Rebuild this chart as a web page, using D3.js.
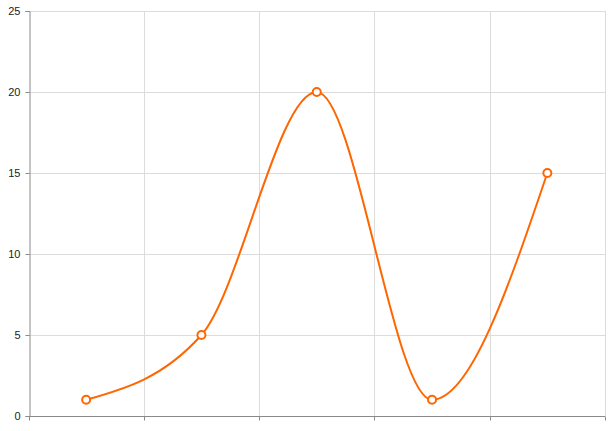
<!DOCTYPE html>
<html>
<head>
<meta charset="utf-8">
<script src="https://cdn.jsdelivr.net/npm/d3@7"></script>
<style>
  html, body { margin: 0; padding: 0; background: #fff; }
  svg { display: block; }
  text { font-family: "Liberation Sans", Arial, sans-serif; }
</style>
</head>
<body>
<svg id="chart" width="616" height="431"></svg>
<script>
const categories = ["1", "2", "3", "4", "5"];
const values = [1, 5, 20, 1, 15];
const yTicks = [0, 5, 10, 15, 20, 25];

const W = 616, H = 431;
const margin = { top: 11, right: 11, bottom: 15, left: 28.5 };
const svg = d3.select("#chart");

const x = d3.scaleBand().domain(categories).range([margin.left, W - margin.right]);
const y = d3.scaleLinear().domain([0, 25]).range([H - margin.bottom, margin.top]);

// horizontal grid
svg.append("g")
  .selectAll("line")
  .data(yTicks.filter(d => d > 0))
  .join("line")
  .attr("x1", margin.left).attr("x2", W - margin.right)
  .attr("y1", d => Math.round(y(d)) + 0.5).attr("y2", d => Math.round(y(d)) + 0.5)
  .attr("stroke", "#dcdcdc").attr("stroke-width", 1);

// vertical grid at band boundaries
const bounds = categories.map(c => x(c) + x.bandwidth());
svg.append("g")
  .selectAll("line")
  .data(bounds)
  .join("line")
  .attr("x1", d => Math.round(d) + 0.5).attr("x2", d => Math.round(d) + 0.5)
  .attr("y1", margin.top).attr("y2", H - margin.bottom)
  .attr("stroke", "#dcdcdc").attr("stroke-width", 1);

// x axis
const xAxis = svg.append("g").attr("transform", `translate(0,${Math.round(H - margin.bottom) + 0.5})`);
xAxis.append("line")
  .attr("x1", margin.left).attr("x2", W - margin.right)
  .attr("stroke", "#8a8a8a");
xAxis.selectAll("line.tick")
  .data([margin.left].concat(bounds))
  .join("line")
  .attr("class", "tick")
  .attr("x1", d => Math.round(d) + 0.5).attr("x2", d => Math.round(d) + 0.5)
  .attr("y1", 0).attr("y2", 4)
  .attr("stroke", "#8a8a8a");

// y axis
const yAxis = svg.append("g").attr("transform", `translate(${Math.round(margin.left) + 0.5},0)`)
  .call(d3.axisLeft(y).tickValues(yTicks).tickSize(4).tickPadding(5).tickFormat(d3.format("d")));
yAxis.select(".domain").attr("stroke", "#8a8a8a");
yAxis.selectAll(".tick line").attr("stroke", "#8a8a8a");
yAxis.selectAll(".tick text")
  .attr("fill", "#222")
  .style("font-size", "11px")
  .style("font-family", "'Liberation Sans', Arial, sans-serif");

// line
const pts = categories.map((c, i) => [x(c) + x.bandwidth() / 2, y(values[i])]);
svg.append("path")
  .datum(pts)
  .attr("d", d3.line().curve(d3.curveMonotoneX))
  .attr("fill", "none")
  .attr("stroke", "#ff6600")
  .attr("stroke-width", 2);

svg.append("g")
  .selectAll("circle")
  .data(pts)
  .join("circle")
  .attr("cx", d => d[0]).attr("cy", d => d[1])
  .attr("r", 4)
  .attr("fill", "#fff")
  .attr("stroke", "#ff6600")
  .attr("stroke-width", 2);
</script>
</body>
</html>
